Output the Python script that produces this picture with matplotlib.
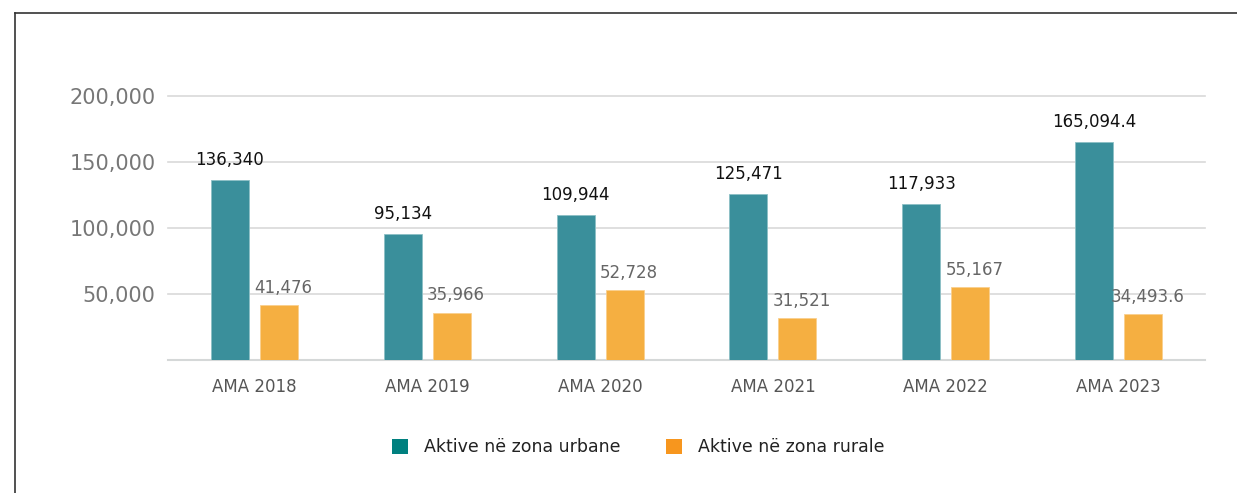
import matplotlib
matplotlib.use("Agg")
import matplotlib.pyplot as plt
from matplotlib.patches import Patch
from matplotlib.lines import Line2D
import numpy as np

categories = ["AMA 2018", "AMA 2019", "AMA 2020", "AMA 2021", "AMA 2022", "AMA 2023"]
urban = [136340, 95134, 109944, 125471, 117933, 165094.4]
rural = [41476, 35966, 52728, 31521, 55167, 34493.6]
urban_labels = ["136,340", "95,134", "109,944", "125,471", "117,933", "165,094.4"]
rural_labels = ["41,476", "35,966", "52,728", "31,521", "55,167", "34,493.6"]
yticks = [50000, 100000, 150000, 200000]
series_names = ["Aktive në zona urbane", "Aktive në zona rurale"]

plt.rcParams['font.family'] = ['DejaVu Sans']

fig = plt.figure(figsize=(12.37, 4.93), dpi=100)
W, H = 1237, 493
ax = fig.add_axes([168 / W, 1 - 360 / H, (1205 - 168) / W, (360 - 96) / H])

x = np.arange(len(categories))
off = 0.142
bw = 0.22
c_teal = "#3A8F9B"
c_orange = "#F5AF41"
ax.bar(x - off, urban, bw, color=c_teal, edgecolor="#8CC0C6", linewidth=0.6, zorder=3)
ax.bar(x + off, rural, bw, color=c_orange, edgecolor="#F9CF8E", linewidth=0.6, zorder=3)

for xi, v, lab in zip(x, urban, urban_labels):
    ax.annotate(lab, (xi - off, v), xytext=(0, 8), textcoords="offset points",
                ha="center", va="bottom", fontsize=12, color="#111111", zorder=4)
for xi, v, lab in zip(x, rural, rural_labels):
    ax.annotate(lab, (xi + off, v), xytext=(3, 6), textcoords="offset points",
                ha="center", va="bottom", fontsize=12, color="#666666", zorder=4)

ax.set_xlim(-0.5, len(categories) - 0.5)
ax.set_ylim(0, 200000)
ax.set_yticks(yticks)
ax.set_yticklabels([f"{t:,}" for t in yticks], fontsize=15, color="#777777")
ax.set_xticks(x)
ax.set_xticklabels(categories, fontsize=12, color="#555555")
ax.tick_params(axis="y", length=0, pad=9)
ax.tick_params(axis="x", length=0, pad=13)
ax.grid(axis="y", color="#D9D9D9", linewidth=1.2, zorder=0)
for gl in ax.get_ygridlines():
    gl.set_clip_on(False)
for s in ["top", "right", "left"]:
    ax.spines[s].set_visible(False)
ax.spines["bottom"].set_color("#D5D8D8")
ax.spines["bottom"].set_linewidth(1.5)

handles = [Patch(facecolor="#00807F", edgecolor="none"),
           Patch(facecolor="#F7961E", edgecolor="none")]
fig.legend(handles, series_names, loc="center", bbox_to_anchor=(638 / W, 1 - 447 / H),
           ncol=2, frameon=False, fontsize=12.5, handlelength=0.95, handleheight=0.95,
           handletextpad=0.9, columnspacing=2.6, labelcolor="#222222")

# outer frame
fig.add_artist(Line2D([15 / W, 15 / W], [0, 1 - 13 / H], transform=fig.transFigure,
                      color="#333333", linewidth=1.2))
fig.add_artist(Line2D([15 / W, 1], [1 - 13 / H, 1 - 13 / H], transform=fig.transFigure,
                      color="#333333", linewidth=1.2))

fig.savefig("out.png", dpi=100)
